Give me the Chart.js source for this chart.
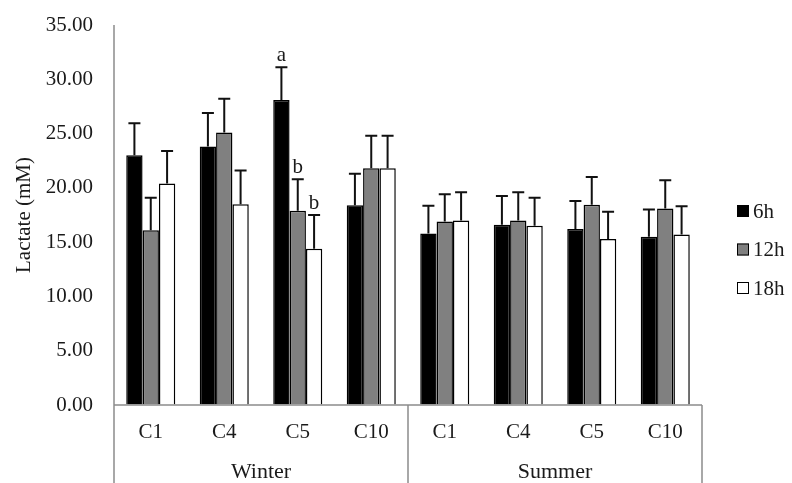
<!DOCTYPE html>
<html>
<head>
<meta charset="utf-8">
<script src="https://cdn.jsdelivr.net/npm/chart.js@4.4.0/dist/chart.umd.min.js"></script>
<style>
html,body{margin:0;padding:0;background:#fff;}
#wrap{width:792px;height:483px;position:relative;}
</style>
</head>
<body>
<div id="wrap"><canvas id="c" width="792" height="483"></canvas></div>
<script>
const categories = ['C1','C4','C5','C10','C1','C4','C5','C10'];
const groups = ['Winter','Summer'];
const groupSize = 4;
const seriesNames = ['6h','12h','18h'];
const h6  = [23.0, 23.8, 28.1, 18.4, 15.8, 16.6, 16.2, 15.5];
const h6err  = [2.95, 3.1, 3.0, 2.9, 2.55, 2.65, 2.6, 2.5];
const h12 = [16.1, 25.1, 17.9, 21.8, 16.9, 17.0, 18.45, 18.1];
const h12err = [3.0, 3.1, 2.9, 3.0, 2.5, 2.6, 2.55, 2.6];
const h18 = [20.4, 18.5, 14.4, 21.8, 17.0, 16.5, 15.3, 15.7];
const h18err = [3.0, 3.1, 3.1, 3.0, 2.6, 2.6, 2.5, 2.6];
const sig6  = ['', '', 'a', '', '', '', '', ''];
const sig12 = ['', '', 'b', '', '', '', '', ''];
const sig18 = ['', '', 'b', '', '', '', '', ''];
const yTicks = [0, 5, 10, 15, 20, 25, 30, 35];

const FONT = "'Liberation Serif', 'Times New Roman', serif";
const TXT = '#1a1a1a';
const AXIS = '#8c8c8c';

const errs = [h6err, h12err, h18err];
const sigs = [sig6, sig12, sig18];

const extrasPlugin = {
  id: 'extras',
  afterDatasetsDraw(chart) {
    const ctx = chart.ctx;
    const y = chart.scales.y;
    const area = chart.chartArea;
    ctx.save();
    // error bars and significance letters
    chart.data.datasets.forEach((ds, di) => {
      const meta = chart.getDatasetMeta(di);
      meta.data.forEach((bar, i) => {
        const v = ds.data[i];
        const top = y.getPixelForValue(v + errs[di][i]);
        const base = y.getPixelForValue(v);
        ctx.strokeStyle = '#111';
        ctx.lineWidth = 2;
        ctx.beginPath();
        ctx.moveTo(bar.x, base);
        ctx.lineTo(bar.x, top);
        ctx.moveTo(bar.x - 6, top);
        ctx.lineTo(bar.x + 6, top);
        ctx.stroke();
        if (sigs[di][i]) {
          ctx.fillStyle = TXT;
          ctx.font = '21px ' + FONT;
          ctx.textAlign = 'center';
          ctx.textBaseline = 'alphabetic';
          ctx.fillText(sigs[di][i], bar.x, top - 6);
        }
      });
    });
    // axes lines and group dividers
    ctx.strokeStyle = AXIS;
    ctx.lineWidth = 1.5;
    const bottom = chart.height;
    ctx.beginPath();
    ctx.moveTo(area.left, area.top);
    ctx.lineTo(area.left, bottom);
    ctx.moveTo(area.left, area.bottom);
    ctx.lineTo(area.right, area.bottom);
    const step = (area.right - area.left) / categories.length;
    for (let g = 1; g <= groups.length; g++) {
      const xx = area.left + step * groupSize * g;
      ctx.moveTo(xx, area.bottom);
      ctx.lineTo(xx, bottom);
    }
    ctx.stroke();
    // group labels
    ctx.fillStyle = TXT;
    ctx.font = '22px ' + FONT;
    ctx.textAlign = 'center';
    ctx.textBaseline = 'middle';
    groups.forEach((g, gi) => {
      const cx = area.left + step * groupSize * (gi + 0.5);
      ctx.fillText(g, cx, 472);
    });
    // legend
    chart.data.datasets.forEach((ds, di) => {
      const ly = 211 + di * 38.5;
      ctx.fillStyle = ds.backgroundColor;
      ctx.fillRect(737, ly - 6, 12, 12);
      ctx.strokeStyle = '#000';
      ctx.lineWidth = 1;
      ctx.strokeRect(737.5, ly - 5.5, 11, 11);
      ctx.fillStyle = TXT;
      ctx.textAlign = 'left';
      ctx.textBaseline = 'middle';
      ctx.font = '21px ' + FONT;
      ctx.fillText(ds.label, 753, ly + 1);
    });
    ctx.restore();
  }
};

new Chart(document.getElementById('c'), {
  type: 'bar',
  data: {
    labels: categories,
    datasets: [
      {label: seriesNames[0], data: h6,  backgroundColor: '#000000', borderColor: '#000', borderWidth: 1.5},
      {label: seriesNames[1], data: h12, backgroundColor: '#808080', borderColor: '#000', borderWidth: 1.5},
      {label: seriesNames[2], data: h18, backgroundColor: '#ffffff', borderColor: '#000', borderWidth: 1.5}
    ]
  },
  options: {
    responsive: false,
    animation: false,
    devicePixelRatio: 1,
    layout: {padding: {top: 25, right: 90, bottom: 0, left: 0}},
    plugins: {legend: {display: false}, tooltip: {enabled: false}},
    datasets: {bar: {barPercentage: 1.0, categoryPercentage: 0.667}},
    scales: {
      x: {
        grid: {display: false, drawTicks: false},
        border: {display: false},
        ticks: {color: TXT, font: {family: FONT, size: 21}, padding: 15, autoSkip: false, maxRotation: 0},
        afterFit(s) { s.height = 78; }
      },
      y: {
        min: 0, max: 35,
        grid: {display: true, drawOnChartArea: false, drawTicks: true, tickLength: 21, color: 'rgba(0,0,0,0)'},
        border: {display: false},
        afterBuildTicks(s) { s.ticks = yTicks.map(v => ({value: v})); },
        ticks: {color: TXT, font: {family: FONT, size: 21}, padding: 0, callback: v => Number(v).toFixed(2)},
        title: {display: true, text: 'Lactate (mM)', color: TXT, font: {family: FONT, size: 21}, padding: {top: 12, bottom: 0}},
        afterFit(s) { s.width = 114; }
      }
    }
  },
  plugins: [extrasPlugin]
});
</script>
</body>
</html>
